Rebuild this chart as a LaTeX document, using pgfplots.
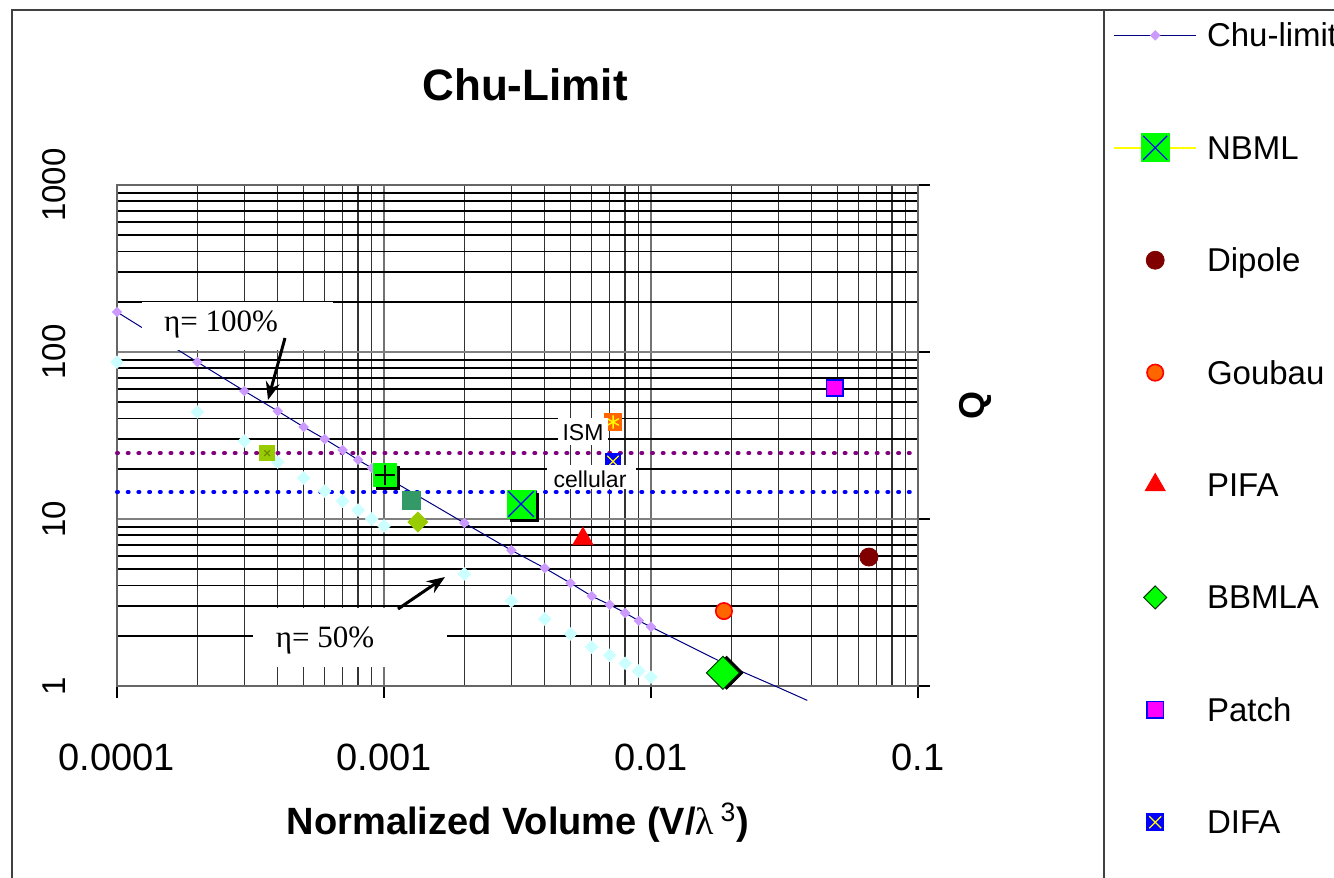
\documentclass[border=0pt]{standalone}
\usepackage{fontspec}
\setmainfont{Liberation Sans}
\newfontfamily\seriffont{Liberation Serif}
\usepackage{pgfplots}
\pgfplotsset{compat=1.18}
\usetikzlibrary{arrows.meta}
\definecolor{chuline}{HTML}{000080}
\definecolor{chumark}{HTML}{CC99FF}
\definecolor{halfmark}{HTML}{CCFFFF}
\definecolor{brightgreen}{HTML}{00FF00}
\definecolor{seagr}{HTML}{339966}
\definecolor{olivegr}{HTML}{99CC00}
\definecolor{darkolive}{HTML}{6B8E00}
\definecolor{orng}{HTML}{FF6600}
\definecolor{dipolec}{HTML}{800000}
\definecolor{ismpurple}{HTML}{800080}
\definecolor{bluex}{HTML}{0000FF}
\definecolor{yell}{HTML}{FFFF00}
\definecolor{magen}{HTML}{FF00FF}
\definecolor{bbborder}{HTML}{003300}
\begin{document}
\begin{tikzpicture}
\begin{axis}[
  at={(58.5pt,-343pt)}, anchor=south west,
  scale only axis, width=400.5pt, height=250.5pt,
  xmode=log, ymode=log,
  xmin=1e-4, xmax=0.1, ymin=1, ymax=1000,
  clip=false,
  xtick={1e-4,1e-3,1e-2,1e-1},
  xticklabels={0.0001,0.001,0.01,0.1},
  ytick={1,10,100,1000},
  yticklabels={1,10,100,1000},
  minor xtick={2e-4,3e-4,4e-4,5e-4,6e-4,7e-4,8e-4,9e-4,2e-3,3e-3,4e-3,5e-3,6e-3,7e-3,8e-3,9e-3,2e-2,3e-2,4e-2,5e-2,6e-2,7e-2,8e-2,9e-2},
  minor ytick={2,3,4,5,6,7,8,9,20,30,40,50,60,70,80,90,200,300,400,500,600,700,800,900},
  grid=both,
  major x grid style={black!55, line width=0.8pt},
  minor x grid style={black!80, line width=0.65pt},
  major y grid style={black!50, line width=0.8pt},
  minor y grid style={black, line width=0.9pt},
  axis line style={black!60, line width=0.7pt},
  xtick pos=bottom, ytick pos=right, yticklabel pos=left,
  tick align=outside,
  major tick length=6pt, minor tick length=0pt,
  tick style={black, line width=0.7pt},
  xticklabel style={font=\fontsize{19}{22}\selectfont, inner sep=0pt, anchor=north},
  xticklabel shift=23pt,
  yticklabel style={font=\fontsize{16.5}{19}\selectfont, inner sep=0pt, rotate=90, anchor=south},
  yticklabel shift=19.5pt,
  title={Chu-Limit},
  title style={at={(axis description cs:0.5094,1.1756)}, anchor=center, inner sep=0pt, font=\fontsize{22}{26}\selectfont\bfseries},
  xlabel={Normalized Volume (V/{\seriffont\mdseries λ}\,\textsuperscript{\mdseries 3})},
  xlabel style={at={(axis description cs:0.5006,-0.2727)}, anchor=center, inner sep=0pt, font=\fontsize{19}{22}\selectfont\bfseries},
  ylabel={Q},
  ylabel style={at={(axis description cs:1.0712,0.5589)}, anchor=center, inner sep=0pt, font=\fontsize{18}{22}\selectfont\bfseries},
  legend image code/.code={
    \draw[mark repeat=2,mark phase=2,#1] plot coordinates {(0pt,0pt) (20.5pt,0pt) (41pt,0pt)};
  },
  legend cell align=left,
  legend style={at={(1.24345,1.3301)}, anchor=north west, draw=none, fill=none,
    inner sep=0pt, row sep=40.8pt, column sep=5pt,
    font=\fontsize{16.5}{19}\selectfont,
    nodes={inner sep=0pt, text height=13.4pt, text depth=2pt}},
]
% Chu-limit (eta = 100%)
\addplot[chuline, line width=0.5pt, mark=square*, mark size=1.6pt,
  mark options={rotate=45, fill=chumark, draw=chumark}]
coordinates {(1e-4,173.6)(2e-4,87.1)(3e-4,58.4)(4e-4,44.3)(5e-4,35.6)(6e-4,30.1)(7e-4,25.9)(8e-4,22.6)(9e-4,20.2)(1e-3,18.1)(2e-3,9.46)(3e-3,6.5)(4e-3,5.08)(5e-3,4.13)(6e-3,3.45)(7e-3,3.07)(8e-3,2.74)(9e-3,2.46)(1e-2,2.26)(2e-2,1.3)};
\addlegendentry{Chu-limit}
\addplot[chuline, line width=0.5pt, forget plot] coordinates {(2e-2,1.3)(3e-2,0.98)(0.0385,0.82)};
% eta = 50%
\addplot[only marks, forget plot, mark=square*, mark size=2.2pt,
  mark options={rotate=45, fill=halfmark, draw=halfmark}]
coordinates {(1e-4,87)(2e-4,43.7)(3e-4,29.3)(4e-4,21.9)(5e-4,17.6)(6e-4,14.7)(7e-4,12.8)(8e-4,11.3)(9e-4,10.0)(1e-3,9.08)(2e-3,4.69)(3e-3,3.23)(4e-3,2.52)(5e-3,2.05)(6e-3,1.71)(7e-3,1.53)(8e-3,1.37)(9e-3,1.23)(1e-2,1.13)};
% ISM and cellular levels
\addplot[ismpurple, line width=2pt, line cap=round, dash pattern=on 0.5pt off 4.85pt, forget plot] coordinates {(1e-4,24.8)(0.1,24.8)};
\addplot[bluex, line width=2pt, line cap=round, dash pattern=on 0.5pt off 4.85pt, forget plot] coordinates {(1e-4,14.5)(0.1,14.5)};
% other designs without legend entries
\addplot[only marks, forget plot, mark=square*, mark size=5.75pt, mark options={fill=black, draw=black, xshift=1.5pt, yshift=-1.5pt}] coordinates {(0.00101,18.3)};
\addplot[only marks, forget plot, mark=square*, mark size=5.75pt, mark options={fill=brightgreen, draw=brightgreen}] coordinates {(0.00101,18.3)};
\addplot[only marks, forget plot, mark=+, mark size=5pt, mark options={draw=black, line width=0.7pt}] coordinates {(0.00101,18.3)};
\addplot[only marks, forget plot, mark=square*, mark size=4.5pt, mark options={fill=seagr, draw=seagr}] coordinates {(0.00127,12.9)};
\addplot[only marks, forget plot, mark=square*, mark size=3.5pt, mark options={rotate=45, fill=olivegr, draw=olivegr}] coordinates {(0.00134,9.6)};
\addplot[only marks, forget plot, mark=square*, mark size=3.75pt, mark options={fill=olivegr, draw=olivegr}] coordinates {(0.000365,24.8)};
\addplot[only marks, forget plot, mark=x, mark size=2pt, mark options={draw=darkolive, line width=0.6pt}] coordinates {(0.000365,24.8)};
\addplot[only marks, forget plot, mark=square*, mark size=4.25pt, mark options={fill=orng, draw=orng}] coordinates {(0.00721,38.1)};
\addplot[only marks, forget plot, mark=asterisk, mark size=3.3pt, mark options={draw=yell, line width=0.7pt}] coordinates {(0.00721,38.1)};
% NBML
\addplot[only marks, forget plot, mark=square*, mark size=7pt, mark options={fill=black, draw=black, xshift=1.5pt, yshift=-1.5pt}] coordinates {(0.00326,12.3)};
\addplot[only marks, mark=square*, mark size=7pt, mark options={fill=brightgreen, draw=brightgreen},
  legend image code/.code={
    \draw[yell, line width=0.8pt] (0pt,0pt) -- (41pt,0pt);
    \fill[brightgreen] (13.5pt,-7pt) rectangle (27.5pt,7pt);
    \draw[bluex, line width=0.6pt] (14.5pt,-6pt) -- (26.5pt,6pt) (14.5pt,6pt) -- (26.5pt,-6pt);
  }] coordinates {(0.00326,12.3)};
\addlegendentry{NBML}
\addplot[only marks, forget plot, mark=x, mark size=9pt, mark options={draw=bluex, line width=0.6pt}] coordinates {(0.00326,12.3)};
% Dipole
\addplot[only marks, mark=*, mark size=4.5pt, mark options={fill=dipolec, draw=dipolec}] coordinates {(0.0655,5.92)};
\addlegendentry{Dipole}
% Goubau
\addplot[only marks, mark=*, mark size=4.1pt, mark options={fill=orng, draw=red, line width=0.8pt}] coordinates {(0.01876,2.81)};
\addlegendentry{Goubau}
% PIFA
\addplot[only marks, mark=triangle*, mark size=5.8pt, mark options={fill=red, draw=red}] coordinates {(0.00556,7.6)};
\addlegendentry{PIFA}
% BBMLA
\addplot[only marks, forget plot, mark=square*, mark size=5.83pt, mark options={rotate=45, fill=black, draw=black, xshift=1.3pt, yshift=-1.3pt}] coordinates {(0.0186,1.2)};
\addplot[only marks, mark=square*, mark size=5.83pt, mark options={rotate=45, fill=brightgreen, draw=bbborder, line width=0.5pt},
  legend image code/.code={
    \draw[draw=bbborder, fill=brightgreen, line width=0.5pt] (20.5pt,5.75pt) -- (26.25pt,0pt) -- (20.5pt,-5.75pt) -- (14.75pt,0pt) -- cycle;
  }] coordinates {(0.0186,1.2)};
\addlegendentry{BBMLA}
% Patch
\addplot[only marks, mark=square*, mark size=4.1pt, mark options={fill=magen, draw=bluex, line width=0.8pt}] coordinates {(0.0487,60.9)};
\addlegendentry{Patch}
% DIFA
\addplot[only marks, mark=square*, mark size=3.9pt, mark options={fill=bluex, draw=bluex},
  legend image code/.code={
    \fill[bluex] (16.3pt,-4.2pt) rectangle (24.7pt,4.2pt);
    \draw[yell, line width=0.6pt] (17.5pt,-3pt) -- (23.5pt,3pt) (17.5pt,3pt) -- (23.5pt,-3pt);
  }] coordinates {(0.00721,22.1)};
\addlegendentry{DIFA}
\addplot[only marks, forget plot, mark=x, mark size=4pt, mark options={draw=yell, line width=0.6pt}] coordinates {(0.00721,22.1)};
\end{axis}
% annotation boxes
\fill[white] (71pt,-151pt) rectangle (166.5pt,-175pt);
\node[font=\seriffont\fontsize{15.5}{18}\selectfont, inner sep=0pt] at (110.5pt,-162pt) {η= 100\%};
\draw[-{Stealth[length=9pt,width=7pt]}, line width=1.5pt] (142.5pt,-169pt) -- (134pt,-200pt);
\fill[white] (126.5pt,-304pt) rectangle (223.5pt,-333.5pt);
\node[font=\seriffont\fontsize{15.5}{18}\selectfont, inner sep=0pt] at (162.5pt,-320pt) {η= 50\%};
\draw[-{Stealth[length=9pt,width=7pt]}, line width=1.5pt] (199pt,-304.5pt) -- (222.5pt,-288.5pt);
\fill[white] (279pt,-209pt) rectangle (304pt,-222.5pt);
\node[font=\fontsize{11.5}{13}\selectfont, inner sep=0pt] at (291.5pt,-216.5pt) {ISM};
\fill[white] (273.5pt,-232.5pt) rectangle (318pt,-244.5pt);
\node[font=\fontsize{11.5}{13}\selectfont, inner sep=0pt] at (295pt,-239.5pt) {cellular};
% chart and legend frames
\draw[black!75, line width=0.8pt] (6pt,-439pt) -- (6pt,-5pt) -- (667pt,-5pt);
\draw[black!75, line width=0.8pt] (552pt,-5pt) -- (552pt,-439pt);
\pgfresetboundingbox
\path[use as bounding box] (0pt,0pt) rectangle (667pt,-439pt);
\end{tikzpicture}
\end{document}
